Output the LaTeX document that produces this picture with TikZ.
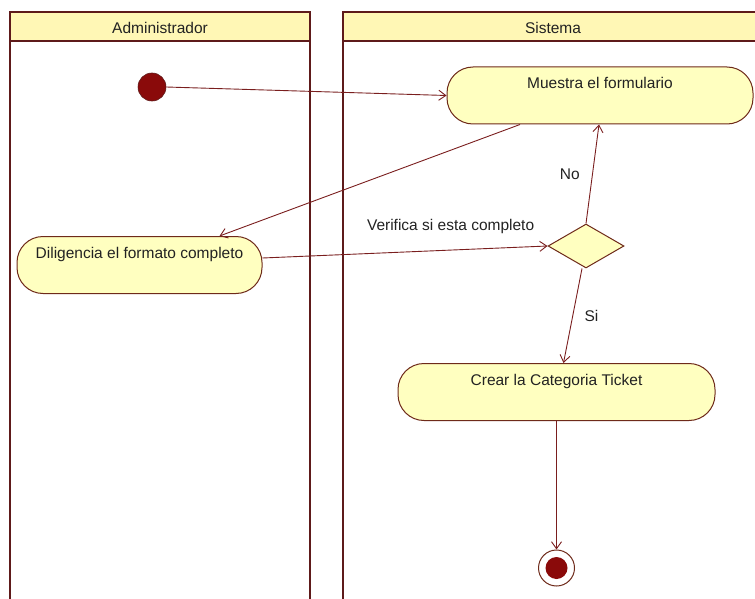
\documentclass[tikz,border=0pt]{standalone}
\usepackage{fontspec}
\setmainfont{Liberation Sans}
\usepackage{tikz}
\usetikzlibrary{arrows.meta,shapes.geometric}
\definecolor{lanered}{HTML}{5E1A1A}
\definecolor{linered}{HTML}{7A1E1E}
\definecolor{dotred}{HTML}{8A0A0A}
\definecolor{boxline}{HTML}{6E2A1A}
\definecolor{boxyellow}{HTML}{FFFFC0}
\definecolor{headyellow}{HTML}{FFF7B5}
\definecolor{labelgray}{HTML}{222222}
\begin{document}
\begin{tikzpicture}[x=1pt,y=-1pt,font=\fontsize{15.5}{18}\selectfont,text=labelgray,
  lane/.style={draw=lanered,line width=2.6pt},
  actbox/.style={draw=boxline,fill=boxyellow,line width=1pt,rounded corners=26pt,
    inner sep=0pt,text height=22pt,text depth=35pt},
  decision/.style={draw=boxline,fill=boxyellow,line width=1pt,diamond,inner sep=0pt,
    minimum width=76pt,minimum height=44pt},
  flow/.style={draw=linered,line width=0.9pt,-{Straight Barb[length=7pt,width=10pt]}}]
  \useasboundingbox (0,0) rectangle (755,599);
  \clip (0,0) rectangle (755,599);
  % lanes
  \draw[lane] (10,12) rectangle (310,640);
  \draw[lane,fill=headyellow] (10,12) rectangle (310,41);
  \draw[lane] (343,12) rectangle (763,640);
  \draw[lane,fill=headyellow] (343,12) rectangle (763,41);
  \node (admin) at (160,27.5) {Administrador};
  \node (sistema) at (553,27.5) {Sistema};
  % nodes
  \node[circle,fill=dotred,draw=lanered,line width=0.6pt,minimum size=28pt,inner sep=0pt]
    (start) at (152,87) {};
  \node[actbox,minimum width=306pt] (muestra) at (600,95.5) {Muestra el formulario};
  \node[actbox,minimum width=245pt] (dilig) at (139.5,265) {Diligencia el formato completo};
  \node[decision] (check) at (586,246) {};
  \node[actbox,minimum width=317pt] (crear) at (556.5,392) {Crear la Categoria Ticket};
  \node[circle,draw=boxline,fill=white,line width=1pt,minimum size=36pt,inner sep=0pt,
    path picture={\fill[dotred] (path picture bounding box.center) circle (11pt);}]
    (fin) at (556.5,568) {};
  % flows
  \draw[flow] (start.east) -- (muestra.west);
  \draw[flow] ([xshift=-80pt]muestra.south) -- ([xshift=80pt]dilig.north);
  \draw[flow] ([yshift=7pt]dilig.east) -- (check.west)
    node[pos=0.66,above=13pt]{Verifica si esta completo};
  \draw[flow] (check.north) -- ([xshift=-1pt]muestra.south)
    node[pos=0.5,left=9pt]{No};
  \draw[flow] ([xshift=-4pt]check.south) -- ([xshift=7pt]crear.north)
    node[pos=0.5,right=8pt]{Si};
  \draw[flow] (crear.south) -- (fin.north);
\end{tikzpicture}
\end{document}
